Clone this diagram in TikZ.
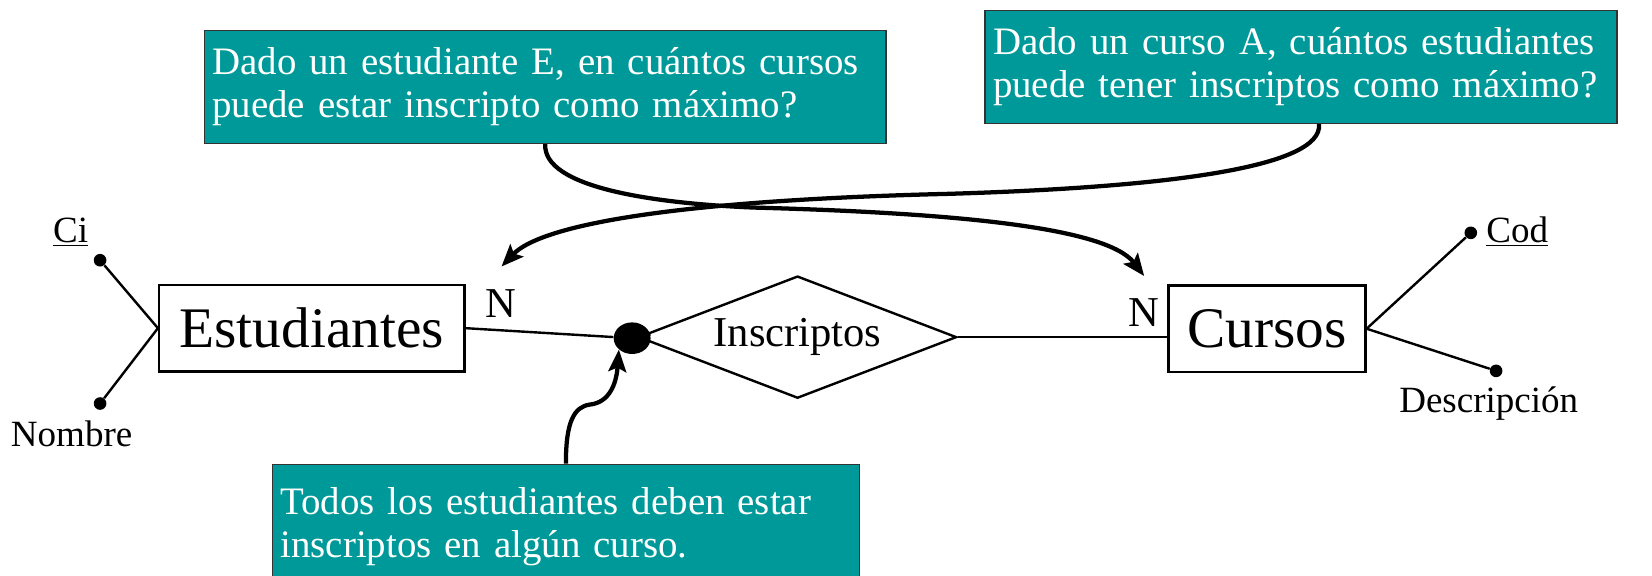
\documentclass[tikz,border=0pt]{standalone}
\usepackage{fontspec}
\setmainfont{Liberation Serif}
\usetikzlibrary{shapes.geometric,arrows.meta}
\definecolor{noteteal}{RGB}{0,153,153}

\begin{document}
\begin{tikzpicture}[x=0.02cm,y=-0.02cm]
\useasboundingbox (0,0) rectangle (1568,546);
\clip (0,0) rectangle (1568,546);
\begin{scope}[
  entity/.style={draw,line width=1.3pt,minimum height=1.64cm,inner sep=0pt,font=\fontsize{31}{37}\selectfont},
  relation/.style={diamond,aspect=2.6,draw,line width=1.3pt,minimum width=6.04cm,minimum height=2.32cm,inner sep=0pt,font=\fontsize{23}{27}\selectfont},
  attrdot/.style={circle,fill,inner sep=0pt,minimum size=0.24cm},
  attrlabel/.style={font=\fontsize{20}{24}\selectfont},
  card/.style={font=\fontsize{23}{27}\selectfont},
  note/.style={fill=noteteal,draw=black!80,line width=0.8pt,text=white,align=left,inner xsep=0.15cm,font=\fontsize{21}{23.3}\selectfont},
  link/.style={line width=1.3pt},
  pointer/.style={line width=2.3pt,-{Stealth[length=0.42cm,width=0.34cm,inset=0.08cm]}}]

% entities and relationship
\node[entity,minimum width=5.8cm] (est) at (296,311.5) {Estudiantes};
\node[entity,minimum width=3.74cm] (cur) at (1202.5,312) {Cursos};
\node[relation] (ins) at (757,320) {Inscriptos};
\node[ellipse,fill,inner sep=0pt,minimum width=0.7cm,minimum height=0.6cm] (part) at (600,321) {};

% attributes
\node[attrdot] (ci) at (95,247) {};
\node[attrdot] (nom) at (95,383) {};
\node[attrdot] (cod) at (1396,221) {};
\node[attrdot] (desc) at (1420,352) {};
\node[attrlabel] (cilbl) at (67,220) {\underline{Ci}};
\node[attrlabel] (nomlbl) at (68,412) {Nombre};
\node[attrlabel] (codlbl) at (1440,220) {\underline{Cod}};
\node[attrlabel] (desclbl) at (1413,383) {Descripción};

% cardinalities
\node[card] (nest) at (475,288) {N};
\node[card] (ncur) at (1086,297) {N};

% notes
\node[note,text width=12.64cm,minimum height=2.14cm] (q1) at (517.5,82.5)
  {Dado un estudiante E, en cuántos cursos\\puede estar inscripto como máximo?};
\node[note,text width=11.7cm,minimum height=2.14cm] (q2) at (1235,63.5)
  {Dado un curso A, cuántos estudiantes\\puede tener inscriptos como máximo?};
\node[note,text width=10.84cm,anchor=north west,inner ysep=0.44cm,text depth=3cm] (q3) at (258,440)
  {Todos los estudiantes deben estar\\inscriptos en algún curso.};

\coordinate (tipcur) at (1086,262);
\coordinate (tipest) at (476,253);

\draw[link] (ci) -- (est.west);
\draw[link] (nom) -- (est.west);
\draw[link] (cur.east) -- (cod);
\draw[link] (cur.east) -- (desc);
\draw[link] (est.east) -- (part);
\draw[link] (part) -- (ins.west);
\draw[link] (ins.east) -- (ins.east -| cur.west);

\draw[pointer] (q1.south) .. controls (515,178) and (620,193) .. (715,197)
  .. controls (900,202) and (1050,215) .. (tipcur);
\draw[pointer] ([xshift=0.34cm]q2.south) .. controls (1256,160) and (1100,178) .. (900,184)
  .. controls (650,190) and (515,212) .. (tipest);
\draw[pointer] (q3.north) .. controls (537,400) and (545,386) .. (560,384)
  .. controls (578,382) and (585,365) .. (part.south west);
\end{scope}
\end{tikzpicture}
\end{document}
